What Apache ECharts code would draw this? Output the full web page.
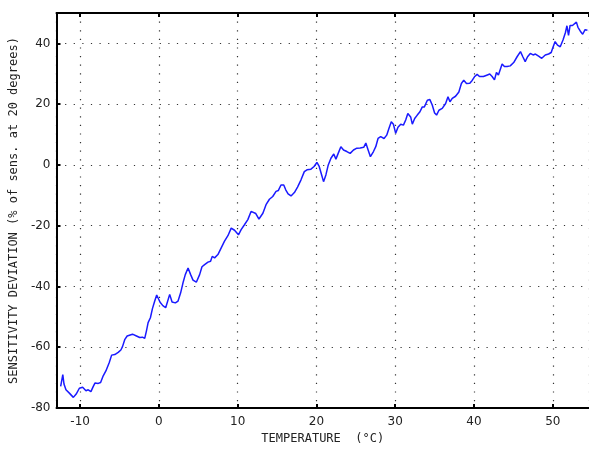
<!DOCTYPE html>
<html>
<head>
<meta charset="utf-8">
<script src="https://cdn.jsdelivr.net/npm/echarts@6/dist/echarts.min.js"></script>
<style>
  html, body { margin: 0; padding: 0; background: #fff; }
  #chart { width: 589px; height: 450px; }
</style>
</head>
<body>
<div id="chart"></div>
<script>
// Temperature (°C) samples along the sweep
const temperature = [
  -12.47, -12.2, -12.05, -11.8, -11.37, -10.86, -10.5, -10.1, -9.68, -9.26,
  -8.97, -8.63, -8.33, -8.12, -7.7, -7.4, -7.07, -6.73, -6.3, -6.0,
  -5.6, -5.17, -4.83, -4.62, -4.32, -4.03, -3.78, -3.35, -2.85, -2.43,
  -2.09, -1.8, -1.58, -1.37, -1.08, -0.82, -0.53, -0.28, 0.15, 0.5,
  0.86, 1.37, 1.67, 2.09, 2.43, 2.76, 3.06, 3.35, 3.7, 4.03,
  4.33, 4.75, 5.17, 5.47, 5.8, 6.23, 6.56, 6.77, 7.07, 7.49,
  7.91, 8.33, 8.76, 9.18, 9.6, 10.1, 10.44, 10.86, 11.29, 11.7,
  11.92, 12.3, 12.7, 13.2, 13.6, 14.03, 14.45, 14.87, 15.17, 15.5,
  15.85, 16.1, 16.4, 16.77, 17.2, 17.6, 18.04, 18.46, 18.8, 19.3,
  19.7, 20.06, 20.35, 20.66, 20.9, 21.2, 21.5, 21.84, 22.2, 22.47,
  22.76, 23.1, 23.44, 23.86, 24.28, 24.7, 25.13, 25.55, 26.0, 26.27,
  26.56, 26.85, 27.24, 27.53, 27.82, 28.16, 28.58, 28.92, 29.2, 29.5,
  29.77, 30.06, 30.35, 30.7, 31.04, 31.33, 31.6, 31.96, 32.17, 32.47,
  32.8, 33.14, 33.44, 33.7, 34.08, 34.4, 34.7, 35.0, 35.25, 35.55,
  35.97, 36.4, 36.7, 36.95, 37.24, 37.66, 38.08, 38.4, 38.7, 39.05,
  39.47, 39.77, 40.06, 40.4, 40.7, 41.2, 41.7, 42.0, 42.3, 42.6,
  42.85, 43.1, 43.57, 43.86, 44.2, 44.6, 45.04, 45.47, 45.9, 46.2,
  46.5, 46.8, 47.15, 47.5, 47.8, 48.2, 48.6, 49.05, 49.47, 49.8,
  50.05, 50.3, 50.6, 50.95, 51.3, 51.6, 51.8, 52.0, 52.2, 52.5,
  52.7, 53.0, 53.2, 53.5, 53.8, 54.1, 54.4
];

// Sensitivity deviation (% of sensitivity at 20 degrees)
const deviation = [
  -72.9, -69.0, -72.1, -74.0, -75.1, -76.5, -75.4, -73.5, -73.2, -74.3,
  -74.0, -74.6, -72.9, -71.8, -71.9, -71.6, -69.4, -67.8, -65.0, -62.6,
  -62.4, -61.7, -60.9, -59.8, -57.4, -56.3, -56.9, -55.7, -56.3, -56.8,
  -56.7, -57.1, -54.6, -51.9, -50.3, -47.3, -44.8, -42.8, -45.2, -46.3,
  -47.0, -42.6, -45.1, -45.4, -44.8, -42.1, -38.8, -36.1, -33.9, -36.1,
  -37.9, -38.6, -36.1, -33.5, -32.8, -32.0, -31.7, -30.1, -30.6, -29.5,
  -27.3, -25.1, -23.3, -20.8, -21.5, -23.0, -21.3, -19.7, -18.0, -15.3,
  -14.8, -16.0, -17.8, -15.9, -13.1, -11.3, -10.4, -8.7, -8.4, -6.6,
  -6.6, -8.2, -9.5, -10.2, -9.1, -7.3, -4.9, -2.2, -1.6, -1.4,
  -0.5, 0.8, -0.5, -3.3, -5.5, -3.3, 0.0, 2.2, 3.6, 1.9,
  3.8, 6.0, 4.9, 4.4, 3.8, 4.9, 5.5, 5.6, 5.8, 7.2,
  4.9, 2.7, 4.4, 6.0, 8.7, 9.3, 8.7, 9.8, 12.0, 14.2,
  13.4, 10.4, 12.4, 13.4, 13.1, 14.8, 16.9, 15.8, 13.4, 15.3,
  16.4, 17.5, 19.1, 19.1, 21.3, 21.5, 19.7, 17.1, 16.4, 18.0,
  18.6, 20.2, 22.4, 20.8, 21.9, 22.6, 24.0, 26.8, 27.9, 26.8,
  26.9, 27.8, 29.0, 29.8, 29.1, 29.1, 29.6, 29.9, 29.1, 28.0,
  30.4, 29.6, 33.2, 32.4, 32.4, 32.6, 33.7, 35.6, 37.3, 35.6,
  34.0, 35.6, 36.7, 36.2, 36.5, 35.8, 35.1, 36.2, 36.5, 37.0,
  38.9, 40.6, 39.4, 38.9, 41.1, 43.5, 45.8, 42.6, 45.9, 45.9,
  46.3, 47.0, 45.3, 44.0, 43.0, 44.5, 44.3
];

const xRange = [-13, 54.6];
const yRange = [-80, 50];
const yStep = 20;

const xTitle = 'TEMPERATURE  (°C)';
const yTitle = 'SENSITIVITY DEVIATION (% of sens. at 20 degrees)';

const points = temperature.map((t, i) => [t, deviation[i]]);

const frameLine = { show: true, onZero: false, lineStyle: { color: '#000', width: 2 } };
const innerTick = { show: true, inside: true, length: 4, lineStyle: { color: '#000', width: 2 } };
const dotted = { show: true, lineStyle: { color: '#333', width: 1.2, type: [1.2, 7.4] } };
const tickFont = { color: '#222', fontFamily: 'DejaVu Sans', fontSize: 12 };
const titleFont = { color: '#222', fontFamily: 'DejaVu Sans Mono', fontSize: 12 };

const chart = echarts.init(document.getElementById('chart'), null, { renderer: 'canvas' });
chart.setOption({
  animation: false,
  backgroundColor: '#fff',
  grid: { left: 55, right: 0, top: 13, bottom: 41, containLabel: false },
  xAxis: [
    {
      type: 'value',
      position: 'bottom',
      min: xRange[0],
      max: xRange[1],
      axisLine: frameLine,
      axisTick: innerTick,
      axisLabel: Object.assign({ margin: 8, showMinLabel: false, showMaxLabel: false }, tickFont),
      splitLine: dotted,
      name: xTitle,
      nameLocation: 'middle',
      nameGap: 25,
      nameTextStyle: titleFont
    },
    {
      type: 'value',
      position: 'top',
      min: xRange[0],
      max: xRange[1],
      axisLine: frameLine,
      axisTick: innerTick,
      axisLabel: { show: false },
      splitLine: { show: false }
    }
  ],
  yAxis: {
    type: 'value',
    min: yRange[0],
    max: yRange[1],
    interval: yStep,
    axisLine: frameLine,
    axisTick: innerTick,
    axisLabel: Object.assign({ margin: 6, showMaxLabel: false }, tickFont),
    splitLine: dotted,
    name: yTitle,
    nameLocation: 'middle',
    nameGap: 29,
    nameTextStyle: titleFont
  },
  series: [{
    type: 'line',
    xAxisIndex: 0,
    data: points,
    showSymbol: false,
    symbol: 'none',
    lineStyle: { color: '#1a1aff', width: 1.5 },
    clip: true
  }]
});
</script>
</body>
</html>
